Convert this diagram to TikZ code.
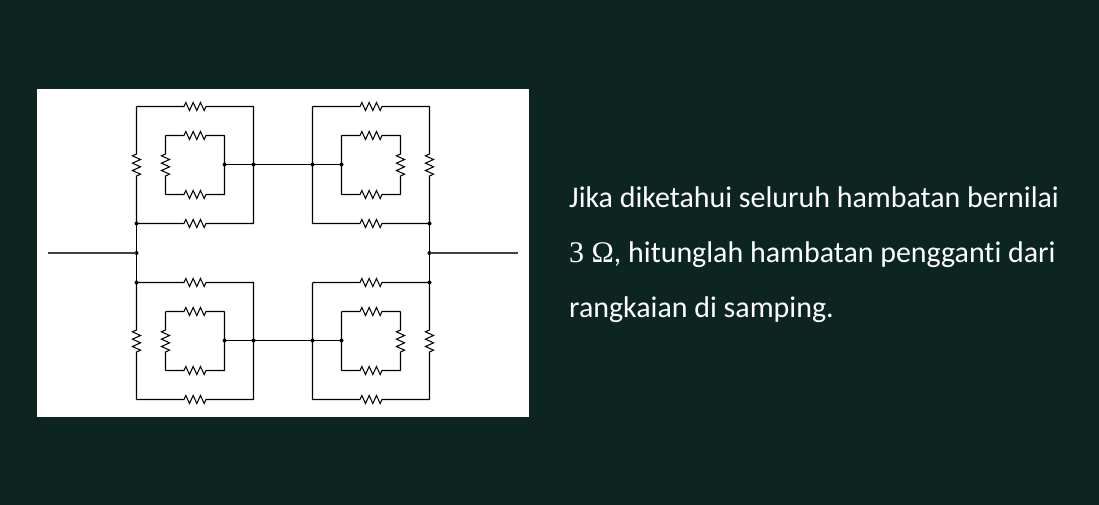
\documentclass[tikz,border=0pt]{standalone}
\usepackage{fontspec}
\setmainfont[RawFeature={-liga;-clig}]{Carlito}
\newfontfamily\mathlike{Liberation Serif}
\usetikzlibrary{calc,decorations.pathmorphing}
\definecolor{bgc}{RGB}{13,37,32}
\definecolor{stub}{RGB}{65,65,65}
\tikzset{
  x=1pt,y=-1pt,
  wire/.style={draw=black,line width=1.05pt,line join=miter},
  stubwire/.style={draw=stub,line width=1.1pt},
  res/.style={to path={
    -- ($(\tikztostart)!.5!(\tikztotarget)!-11pt!(\tikztotarget)$)
    decorate[decoration={zigzag,amplitude=#1,segment length=7.3333pt}]
      {-- ($(\tikztostart)!.5!(\tikztotarget)!11pt!(\tikztotarget)$)}
    -- (\tikztotarget)}},
  res/.default=4pt,
  dot/.style={circle,fill=black,inner sep=0pt,minimum size=4pt},
  txt/.style={text=white,anchor=base west,inner sep=0pt,font=\fontsize{29.95}{30}\selectfont}
}
\begin{document}
\begin{tikzpicture}
\useasboundingbox (0,0) rectangle (1099,505);
\fill[bgc] (0,0) rectangle (1099,505);
\fill[white] (37,89) rectangle (529,417);

% top-left block
\coordinate (tlA) at (136.5,106.5);
\coordinate (tlB) at (253.5,106.5);
\coordinate (tlC) at (253.5,223.5);
\node[dot] (tlD) at (136.5,223.5) {};
\coordinate (tlE) at (165.5,135.5);
\coordinate (tlF) at (224.5,135.5);
\coordinate (tlG) at (224.5,194.5);
\coordinate (tlH) at (165.5,194.5);
\node[dot] (tlM) at (224.5,164.5) {};
\node[dot] (tlN) at (253.5,164.5) {};
% top-right block
\coordinate (trA) at (312.5,106.5);
\coordinate (trB) at (429.5,106.5);
\node[dot] (trC) at (429.5,223.5) {};
\coordinate (trD) at (312.5,223.5);
\coordinate (trE) at (341.5,135.5);
\coordinate (trF) at (400.5,135.5);
\coordinate (trG) at (400.5,194.5);
\coordinate (trH) at (341.5,194.5);
\node[dot] (trM) at (341.5,164.5) {};
\node[dot] (trN) at (312.5,164.5) {};
% bottom-left block
\node[dot] (blA) at (136.5,282.5) {};
\coordinate (blB) at (253.5,282.5);
\coordinate (blC) at (253.5,399.5);
\coordinate (blD) at (136.5,399.5);
\coordinate (blE) at (165.5,311.5);
\coordinate (blF) at (224.5,311.5);
\coordinate (blG) at (224.5,370.5);
\coordinate (blH) at (165.5,370.5);
\node[dot] (blM) at (224.5,340.5) {};
\node[dot] (blN) at (253.5,340.5) {};
% bottom-right block
\coordinate (brA) at (312.5,282.5);
\node[dot] (brB) at (429.5,282.5) {};
\coordinate (brC) at (429.5,399.5);
\coordinate (brD) at (312.5,399.5);
\coordinate (brE) at (341.5,311.5);
\coordinate (brF) at (400.5,311.5);
\coordinate (brG) at (400.5,370.5);
\coordinate (brH) at (341.5,370.5);
\node[dot] (brM) at (341.5,340.5) {};
\node[dot] (brN) at (312.5,340.5) {};
% terminals
\coordinate (inL) at (48,253);
\node[dot] (jL) at (136.5,253) {};
\node[dot] (jR) at (429.5,253) {};
\coordinate (inR) at (518,253);

\draw[stubwire] (inL) -- (jL.center);
\draw[stubwire] (jR.center) -- (inR);

\draw[wire] (tlD.center) to[res] (tlC) -- (tlB) (tlA) to[res] (tlB);
\draw[wire] (tlA) to[res=-4pt] (tlD.center);
\draw[wire] (tlH) to[res] (tlG) -- (tlF) (tlE) to[res] (tlF);
\draw[wire] (tlE) to[res=-4pt] (tlH);
\draw[wire] (tlM.center) -- (trM.center);

\draw[wire] (trD) to[res] (trC.center) (trA) to[res] (trB) (trD) -- (trA);
\draw[wire] (trB) to[res=-4pt] (trC.center);
\draw[wire] (trH) to[res] (trG) (trE) to[res] (trF) (trH) -- (trE);
\draw[wire] (trF) to[res=-4pt] (trG);

\draw[wire] (blA.center) to[res] (blB) -- (blC) (blD) to[res] (blC);
\draw[wire] (blA.center) to[res=-4pt] (blD);
\draw[wire] (blH) to[res] (blG) -- (blF) (blE) to[res] (blF);
\draw[wire] (blE) to[res=-4pt] (blH);
\draw[wire] (blM.center) -- (brM.center);

\draw[wire] (brA) to[res] (brB.center) (brD) to[res] (brC) (brD) -- (brA);
\draw[wire] (brB.center) to[res=-4pt] (brC);
\draw[wire] (brH) to[res] (brG) (brE) to[res] (brF) (brH) -- (brE);
\draw[wire] (brF) to[res=-4pt] (brG);

\draw[wire] (tlD.center) -- (jL.center) -- (blA.center);
\draw[wire] (trC.center) -- (jR.center) -- (brB.center);

\node[txt] (t1) at (569,207) {Jika diketahui seluruh hambatan bernilai};
\node[txt] (t2) at (569,262) {{\mathlike 3 Ω}, hitunglah hambatan pengganti dari};
\node[txt] (t3) at (569,317) {rangkaian di samping.};
\end{tikzpicture}
\end{document}
